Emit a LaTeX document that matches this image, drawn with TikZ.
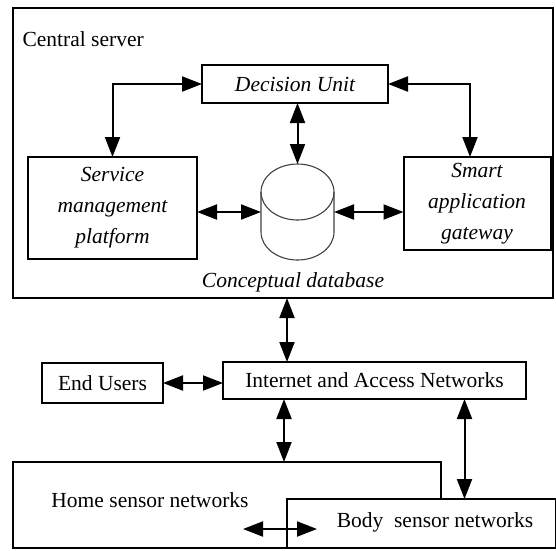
\documentclass[tikz,border=0pt]{standalone}
\usepackage{fontspec}
\setmainfont{Liberation Serif}
\usetikzlibrary{arrows.meta}
\tikzset{
  box/.style={draw, line width=2pt, inner sep=0pt, outer sep=0pt, align=center},
  arr/.style={{Triangle[length=20pt,width=15pt]}-{Triangle[length=20pt,width=15pt]}, line width=2pt},
  cyl/.style={draw=black!75, line width=1.1pt}
}
\begin{document}
\begin{tikzpicture}[x=1pt, y=-1pt, font=\fontsize{21.5}{31}\selectfont]
\useasboundingbox (0,0) rectangle (556,550);
\node[box, minimum width=540, minimum height=290] (cs) at (283,153) {};
\node[anchor=west] (cslab) at (19,39) {Central server};
\node[box, minimum width=186, minimum height=38, font=\fontsize{21.5}{31}\selectfont\itshape] (du) at (295,84) {Decision Unit};
\node[box, minimum width=169, minimum height=102, font=\fontsize{21.5}{31}\selectfont\itshape] (sv) at (112.5,208) {Service\\management\\platform};
\node[box, minimum width=147, minimum height=93, font=\fontsize{21.5}{31}\selectfont\itshape] (sg) at (477,203.5) {Smart\\application\\gateway};
\node[minimum width=73, minimum height=96, inner sep=0pt, outer sep=0pt] (db) at (297.5,212) {};
\draw[cyl] (297.5,192) ellipse [x radius=36.5pt, y radius=28pt];
\draw[cyl] (261,192) -- (261,232) arc[start angle=180, end angle=360, x radius=36.5pt, y radius=28pt] -- (334,192);
\node[font=\fontsize{21.5}{31}\selectfont\itshape] (dblab) at (293,282) {Conceptual database};
\draw[arr] (sv.north) |- (du.west);
\draw[arr] (du.east) -| ([xshift=-7pt]sg.north);
\draw[arr] (du.south -| db.north) -- (db.north);
\draw[arr] (db.west -| sv.east) -- (db.west);
\draw[arr] (db.east) -- (db.east -| sg.west);
\node[box, minimum width=303, minimum height=37] (inet) at (374.5,380.5) {Internet and Access Networks};
\node[box, minimum width=121, minimum height=40] (eu) at (102.5,383) {End Users};
\node[box, minimum width=428, minimum height=86] (home) at (227,505) {};
\node[box, fill=white, minimum width=269, minimum height=49] (body) at (421.5,523.5) {};
\node (homelab) at (150,500) {Home sensor networks};
\node (bodylab) at (435,522) {Body\ \ sensor networks};
\coordinate (hb-l) at (243,529);
\coordinate (hb-r) at (317,529);
\draw[arr] ([xshift=4pt]cs.south) -- ([xshift=4pt]cs.south |- inet.north);
\draw[arr] (eu.east) -- (eu.east -| inet.west);
\draw[arr] ([xshift=57pt]home.north) -- ([xshift=57pt]home.north |- inet.south);
\draw[arr] ([xshift=43pt]body.north) -- ([xshift=43pt]body.north |- inet.south);
\draw[arr] (hb-l) -- (hb-r);
\end{tikzpicture}
\end{document}
